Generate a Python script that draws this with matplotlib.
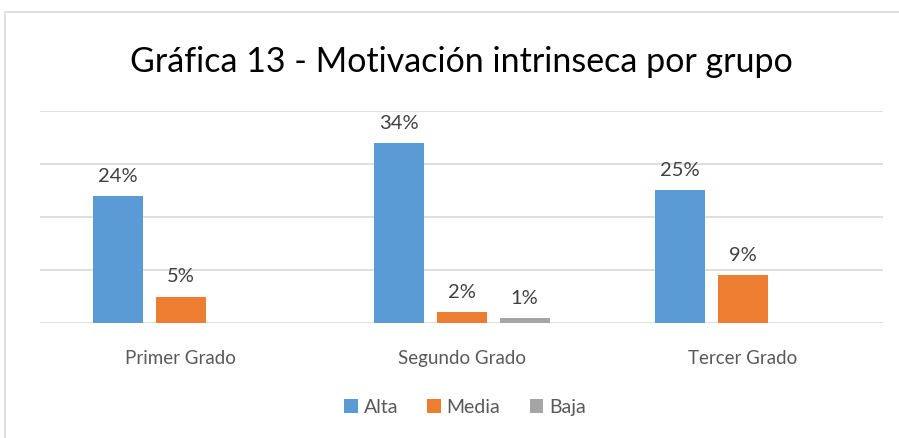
import matplotlib
matplotlib.use("Agg")
import matplotlib.pyplot as plt
from matplotlib.patches import Rectangle
import numpy as np

categories = ["Primer Grado", "Segundo Grado", "Tercer Grado"]
series_names = ["Alta", "Media", "Baja"]
alta = [24, 34, 25]
media = [5, 2, 9]
baja = [0, 1, 0]
colors = ["#5B9BD5", "#ED7D31", "#A5A5A5"]
title = "Gráfica 13 - Motivación intrinseca por grupo"

plt.rcParams['font.family'] = ['Lato', 'DejaVu Sans']

fig = plt.figure(figsize=(8.99, 4.39), dpi=100)
fig.patches.append(Rectangle((5/899, -0.05), 1.0, 1 - 13/439 + 0.05, transform=fig.transFigure,
                             fill=False, edgecolor="#D9D9D9", linewidth=1.2))
ax = fig.add_axes([40/899, 1 - 324/439, 843/899, (324 - 112)/439])

x = np.arange(len(categories))
w = 50/281
off = 63/281
for i, (name, vals, c) in enumerate(zip(series_names, [alta, media, baja], colors)):
    pos = x + (i - 1) * off
    ax.bar(pos, vals, width=w, color=c, label=name, zorder=3)
    for p, v in zip(pos, vals):
        if v > 0:
            ax.text(p, v + 2.3, f"{v}%", ha="center", va="bottom", fontsize=14.5, color="#404040")

ax.set_xlim(-0.5, 2.5)
ax.set_ylim(0, 40)
ax.set_yticks([0, 10, 20, 30, 40])
ax.yaxis.grid(True, color="#D9D9D9", linewidth=1.2, zorder=0)
ax.tick_params(axis="y", left=False, labelleft=False)
ax.tick_params(axis="x", bottom=False, labelsize=13.5, labelcolor="#595959", pad=15)
ax.set_xticks(x)
ax.set_xticklabels(categories)
for s in ax.spines.values():
    s.set_visible(False)

fig.text(461/899, 1 - 62/439, title, ha="center", va="center", fontsize=24.5, color="#000000")
fig.legend(loc="center", bbox_to_anchor=(465/899, 1 - 408/439), ncol=3, frameon=False,
           fontsize=14, handlelength=0.7, handleheight=0.7, handletextpad=0.3, columnspacing=1.5,
           labelcolor="#595959")

fig.savefig("out.png", dpi=100)
